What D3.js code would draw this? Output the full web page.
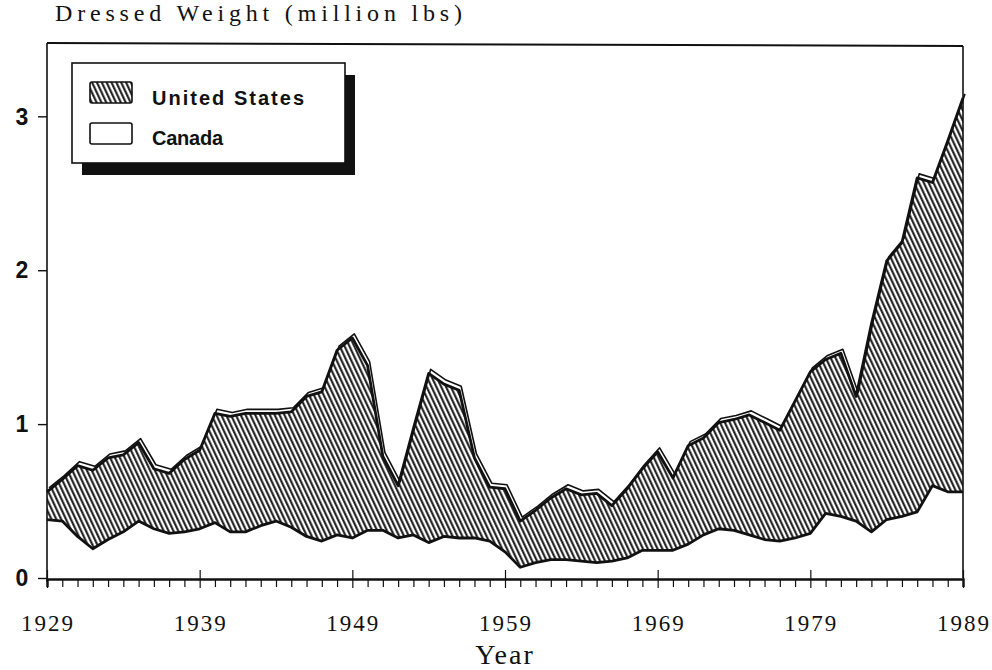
<!DOCTYPE html>
<html>
<head>
<meta charset="utf-8">
<script src="https://cdn.jsdelivr.net/npm/d3@7/dist/d3.min.js"></script>
<style>
  body { margin: 0; background: #fff; }
  svg { display: block; }
  .serif { font-family: "Liberation Serif", "Times New Roman", serif; fill: #111; }
  .sans { font-family: "Liberation Sans", Arial, sans-serif; font-weight: bold; fill: #111; }
</style>
</head>
<body>
<div id="chart"></div>
<script>
// data (million lbs, dressed weight)
var years = d3.range(1929, 1990);

var canada = [
  0.38, 0.37, 0.27, 0.19, 0.25, 0.30, 0.37, 0.32, 0.29, 0.30,
  0.32, 0.36, 0.30, 0.30, 0.34, 0.37, 0.33, 0.27, 0.24, 0.28,
  0.26, 0.31, 0.31, 0.26, 0.28, 0.23, 0.27, 0.26, 0.26, 0.24,
  0.17, 0.07, 0.10, 0.12, 0.12, 0.11, 0.10, 0.11, 0.13, 0.18,
  0.18, 0.18, 0.22, 0.28, 0.32, 0.31, 0.28, 0.25, 0.24, 0.26,
  0.29, 0.42, 0.40, 0.37, 0.30, 0.38, 0.40, 0.43, 0.60, 0.56,
  0.56
];

var unitedStates = [
  0.18, 0.27, 0.46, 0.51, 0.53, 0.50, 0.51, 0.39, 0.39, 0.47,
  0.51, 0.71, 0.75, 0.77, 0.73, 0.70, 0.75, 0.91, 0.97, 1.20,
  1.30, 1.07, 0.48, 0.34, 0.69, 1.10, 0.99, 0.96, 0.52, 0.35,
  0.41, 0.30, 0.34, 0.40, 0.46, 0.43, 0.45, 0.36, 0.45, 0.53,
  0.64, 0.47, 0.64, 0.63, 0.69, 0.72, 0.78, 0.76, 0.72, 0.89,
  1.05, 1.00, 1.06, 0.81, 1.35, 1.68, 1.78, 2.17, 1.97, 2.28,
  2.56
];

var yTicks = [0, 1, 2, 3];
var xLabels = [1929, 1939, 1949, 1959, 1969, 1979, 1989];

var svgWidth = 992;
var svgHeight = 670;

var margin = { top: 44, right: 29, bottom: 92, left: 47 };
var width = svgWidth - margin.left - margin.right;
var height = svgHeight - margin.top - margin.bottom;

var svg = d3.select("#chart")
  .append("svg")
  .attr("width", svgWidth)
  .attr("height", svgHeight);

// diagonal hatch for the US layer
var defs = svg.append("defs");
defs.append("pattern")
  .attr("id", "hatch")
  .attr("patternUnits", "userSpaceOnUse")
  .attr("width", 4.4)
  .attr("height", 10)
  .attr("patternTransform", "rotate(-25)")
  .append("line")
  .attr("x1", 1.2).attr("y1", 0)
  .attr("x2", 1.2).attr("y2", 10)
  .attr("stroke", "#111")
  .attr("stroke-width", 2);

var chartGroup = svg.append("g")
  .attr("transform", `translate(${margin.left}, ${margin.top})`);

var xScale = d3.scaleLinear().domain([1929, 1989]).range([0, width]);
var yScale = d3.scaleLinear().domain([0, 3.47]).range([height, 0]);

// stack canada at the bottom, us on top
var rows = years.map(function (yr, i) {
  return { year: yr, canada: canada[i], unitedStates: unitedStates[i] };
});
var stacked = d3.stack().keys(["canada", "unitedStates"])(rows);

var area = d3.area()
  .x(function (d) { return xScale(d.data.year); })
  .y0(function (d) { return yScale(d[0]); })
  .y1(function (d) { return yScale(d[1]); });

var topLine = d3.line()
  .x(function (d) { return xScale(d.data.year); })
  .y(function (d) { return yScale(d[1]); });

chartGroup.append("path")
  .datum(stacked[1])
  .attr("d", area)
  .attr("fill", "url(#hatch)");

// canada top edge (bottom of the hatched band)
chartGroup.append("path")
  .datum(stacked[0])
  .attr("d", topLine)
  .attr("fill", "none")
  .attr("stroke", "#111")
  .attr("stroke-width", 2.8)
  .attr("stroke-linejoin", "round");

// total edge plus the offset "3d" shadow line
chartGroup.append("path")
  .datum(stacked[1])
  .attr("d", topLine)
  .attr("transform", "translate(2,-4)")
  .attr("fill", "none")
  .attr("stroke", "#111")
  .attr("stroke-width", 1.6)
  .attr("stroke-linejoin", "round");

chartGroup.append("path")
  .datum(stacked[1])
  .attr("d", topLine)
  .attr("fill", "none")
  .attr("stroke", "#111")
  .attr("stroke-width", 2.8)
  .attr("stroke-linejoin", "round");

// frame
chartGroup.append("line")
  .attr("x1", 0).attr("y1", -1)
  .attr("x2", width).attr("y2", 2)
  .attr("stroke", "#111").attr("stroke-width", 2);
chartGroup.append("line")
  .attr("x1", width).attr("y1", 2)
  .attr("x2", width).attr("y2", height)
  .attr("stroke", "#111").attr("stroke-width", 1.6);
chartGroup.append("line")
  .attr("x1", 0).attr("y1", -1)
  .attr("x2", 0).attr("y2", height + 4)
  .attr("stroke", "#111").attr("stroke-width", 1.6);

// x axis: yearly minor ticks, decade majors
var bottomAxis = d3.axisBottom(xScale)
  .tickValues(years)
  .tickSize(8)
  .tickFormat("");
var xAxis = chartGroup.append("g")
  .attr("transform", `translate(0, ${height + 1})`)
  .call(bottomAxis);
xAxis.select(".domain").attr("stroke-width", 2.4).attr("stroke", "#111");
xAxis.selectAll(".tick line").attr("stroke", "#111").attr("stroke-width", 1.2);
xAxis.selectAll(".tick")
  .filter(function (d) { return xLabels.indexOf(d) >= 0; })
  .select("line")
  .attr("y1", -9)
  .attr("y2", 9);

chartGroup.selectAll(".xlabel")
  .data(xLabels)
  .enter().append("text")
  .attr("class", "serif")
  .attr("x", function (d) { return xScale(d) + 1; })
  .attr("y", height + 53)
  .attr("text-anchor", "middle")
  .style("font-size", "23px")
  .style("letter-spacing", "2px")
  .text(function (d) { return d; });

// y axis
var leftAxis = d3.axisLeft(yScale)
  .tickValues(yTicks)
  .tickSize(9)
  .tickFormat("");
var yAxis = chartGroup.append("g").call(leftAxis);
yAxis.select(".domain").remove();
yAxis.selectAll(".tick line").attr("stroke", "#111").attr("stroke-width", 1.4);

chartGroup.selectAll(".ylabel")
  .data(yTicks)
  .enter().append("text")
  .attr("class", "sans")
  .attr("x", -25)
  .attr("y", function (d) { return yScale(d); })
  .attr("dy", "0.36em")
  .attr("text-anchor", "middle")
  .style("font-size", "23px")
  .style("font-weight", "900")
  .text(function (d) { return d; });

// titles
svg.append("text")
  .attr("class", "serif")
  .attr("x", 55)
  .attr("y", 21)
  .attr("textLength", 407)
  .attr("lengthAdjust", "spacing")
  .style("font-size", "24px")
  .text("Dressed Weight (million lbs)");

svg.append("text")
  .attr("class", "serif")
  .attr("x", 505)
  .attr("y", 664)
  .attr("text-anchor", "middle")
  .style("font-size", "28px")
  .style("letter-spacing", "2px")
  .text("Year");

// legend with drop shadow
var legend = svg.append("g").attr("transform", "translate(72, 63)");
legend.append("rect")
  .attr("x", 10).attr("y", 12)
  .attr("width", 273).attr("height", 100)
  .attr("fill", "#111");
legend.append("rect")
  .attr("width", 273).attr("height", 100)
  .attr("fill", "#fff")
  .attr("stroke", "#111")
  .attr("stroke-width", 1.6);

var legendItems = [
  { name: "United States", fill: "url(#hatch)", len: 152 },
  { name: "Canada", fill: "#fff", len: 71 }
];
legendItems.forEach(function (item, i) {
  legend.append("rect")
    .attr("x", 18).attr("y", 19 + i * 41)
    .attr("width", 42).attr("height", 21)
    .attr("rx", 2)
    .attr("fill", item.fill)
    .attr("stroke", "#111")
    .attr("stroke-width", 1.6);
  legend.append("text")
    .attr("class", "sans")
    .attr("x", 80)
    .attr("y", 42 + i * 40)
    .attr("textLength", item.len)
    .attr("lengthAdjust", "spacing")
    .style("font-size", "20px")
    .text(item.name);
});
</script>
</body>
</html>
